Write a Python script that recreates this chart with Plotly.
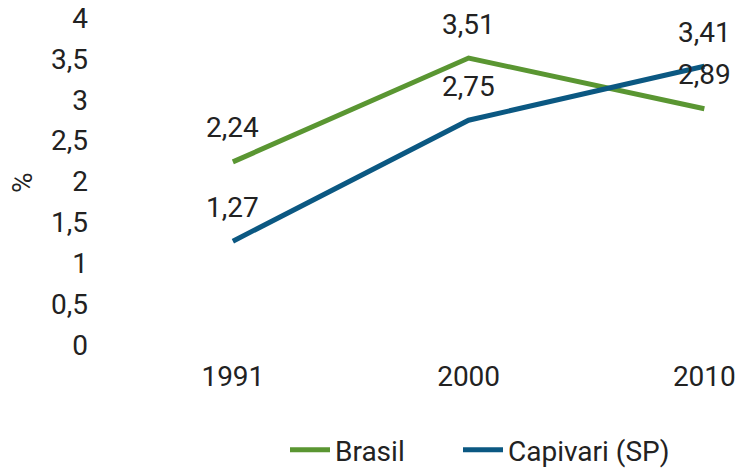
import plotly.graph_objects as go

years = ["1991", "2000", "2010"]
brasil = [2.24, 3.51, 2.89]
capivari = [1.27, 2.75, 3.41]
series_names = ["Brasil", "Capivari (SP)"]
y_ticks = [0, 0.5, 1, 1.5, 2, 2.5, 3, 3.5, 4]
y_tick_labels = ["0", "0,5", "1", "1,5", "2", "2,5", "3", "3,5", "4"]

GREEN = "#5a9632"
BLUE = "#0b5882"
TXT = "#222222"
FONT = "Roboto"
FS = 28

W, H = 735, 468
L, R, T, B = 115, 735, 18, 345

xpos = list(range(len(years)))

fig = go.Figure()
fig.add_trace(go.Scatter(x=xpos, y=brasil, mode="lines", name=series_names[0],
                         line=dict(color=GREEN, width=5), legend="legend"))
fig.add_trace(go.Scatter(x=xpos, y=capivari, mode="lines", name=series_names[1],
                         line=dict(color=BLUE, width=5), legend="legend2"))

def fmt(v):
    return f"{v:.2f}".replace(".", ",")

def px_x(sx):
    return (sx - L) / (R - L)

def px_y(sy):
    return (B - sy) / (B - T)

annotations = []
for vals in (brasil, capivari):
    for x, v in zip(xpos, vals):
        annotations.append(dict(x=x, y=v, xref="x", yref="y", text=fmt(v),
                                showarrow=False, yshift=34,
                                font=dict(family=FONT, size=FS, color=TXT)))
annotations.append(dict(xref="paper", yref="paper", text="%",
                        x=px_x(22), y=px_y(183),
                        xanchor="center", yanchor="middle",
                        showarrow=False, textangle=-90,
                        font=dict(family=FONT, size=FS, color=TXT)))

leg_common = dict(orientation="h", xanchor="left", yanchor="middle",
                  font=dict(family=FONT, size=FS, color=TXT), itemwidth=40,
                  bgcolor="rgba(0,0,0,0)")

fig.update_layout(
    width=W, height=H,
    margin=dict(l=L, r=W - R, t=T, b=H - B, autoexpand=False),
    paper_bgcolor="white", plot_bgcolor="white",
    font=dict(family=FONT, size=FS, color=TXT),
    xaxis=dict(range=[-0.5, 2.13], tickvals=xpos, ticktext=years,
               showgrid=False, zeroline=False, showline=False, ticks="",
               ticklabelstandoff=12, automargin=False, ticklabeloverflow="allow"),
    yaxis=dict(range=[0, 4], tickvals=y_ticks, ticktext=y_tick_labels,
               showgrid=False, zeroline=False, showline=False, ticks="",
               ticklabelstandoff=26, automargin=False, ticklabeloverflow="allow"),
    legend=dict(x=px_x(285), y=px_y(450), **leg_common),
    legend2=dict(x=px_x(458), y=px_y(450), **leg_common),
    showlegend=True,
    annotations=annotations,
)

fig.write_html("out.html", config={"displayModeBar": False},
               post_script="document.body.style.margin='0';document.body.style.overflow='hidden';")
